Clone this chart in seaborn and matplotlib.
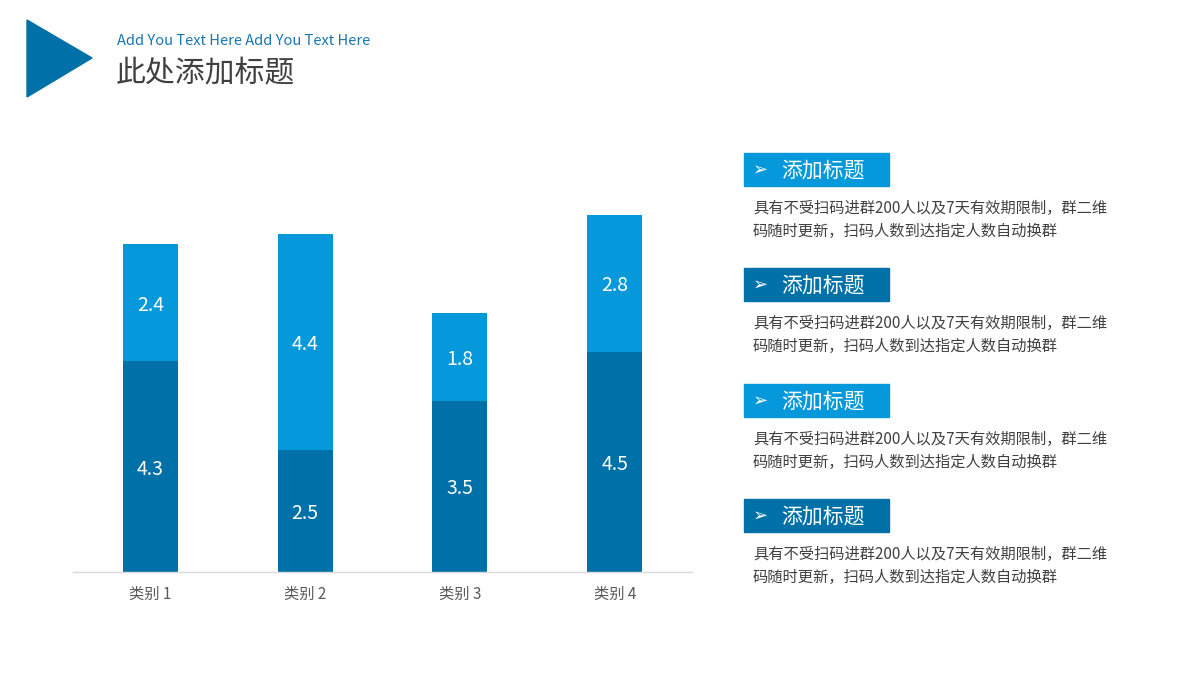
import pandas as pd
import seaborn as sns
import matplotlib.pyplot as plt
from matplotlib.patches import Polygon, Rectangle

# data
categories = ['类别 1', '类别 2', '类别 3', '类别 4']
lower_vals = [4.3, 2.5, 3.5, 4.5]
upper_vals = [2.4, 4.4, 1.8, 2.8]

box_titles = ['添加标题', '添加标题', '添加标题', '添加标题']
box_text = '具有不受扫码进群200人以及7天有效期限制，群二维\n码随时更新，扫码人数到达指定人数自动换群'

dark = '#0071A8'
light = '#0598DA'

sns.set_theme(style='white')
plt.rcParams['font.family'] = ['Noto Sans CJK SC', 'DejaVu Sans']

df = pd.DataFrame({'cat': categories, 'lower': lower_vals, 'upper': upper_vals})
df['total'] = df['lower'] + df['upper']

fig = plt.figure(figsize=(12, 6.8), dpi=100)
ax = fig.add_axes([0.0608, 0.1588, 0.516, 0.648])

sns.barplot(data=df, x='cat', y='total', color=light, width=0.355, saturation=1,
            linewidth=0, ax=ax)
sns.barplot(data=df, x='cat', y='lower', color=dark, width=0.355, saturation=1,
            linewidth=0, ax=ax)

# value labels, nudged a little below segment centre like the original
for i, row in df.iterrows():
    ax.text(i, row['lower'] / 2 - 0.05, f"{row['lower']:.1f}", ha='center', va='center',
            color='white', fontsize=14)
    ax.text(i, row['lower'] + row['upper'] / 2 - 0.05, f"{row['upper']:.1f}", ha='center',
            va='center', color='white', fontsize=14)

ax.set_xlim(-0.5, 3.5)
ax.set_ylim(0, 9)
ax.set_xlabel('')
ax.set_ylabel('')
ax.set_yticks([])
ax.tick_params(axis='x', length=0, pad=10, labelsize=11, labelcolor='#595959')
for s in ['top', 'left', 'right']:
    ax.spines[s].set_visible(False)
ax.spines['bottom'].set_color('#D9D9D9')
ax.spines['bottom'].set_linewidth(1)

# header
W, H = 1200, 680
tri = Polygon([(27 / W, 1 - 20 / H), (27 / W, 1 - 97 / H), (92 / W, 1 - 58 / H)],
              closed=True, transform=fig.transFigure, color=dark)
fig.patches.append(tri)
fig.text(117 / W, 1 - 41 / H, 'Add You Text Here Add You Text Here', color='#1A75B0',
         fontsize=10.5, va='center', ha='left')
fig.text(116 / W, 1 - 74 / H, '此处添加标题', color='#404040', fontsize=21.5,
         va='center', ha='left')

# right side boxes
box_tops = [153, 268, 384, 499]
box_colors = [light, dark, light, dark]
for top, title, col in zip(box_tops, box_titles, box_colors):
    rect = Rectangle((744 / W, 1 - (top + 33) / H), 145 / W, 33 / H,
                     transform=fig.transFigure, color=col)
    fig.patches.append(rect)
    fig.text(761 / W, 1 - (top + 17) / H, '➢', color='white', fontsize=13,
             va='center', ha='center', family=['DejaVu Sans'])
    fig.text(781 / W, 1 - (top + 18) / H, title, color='white', fontsize=15,
             va='center', ha='left')
    fig.text(753 / W, 1 - (top + 67) / H, box_text, color='#404040', fontsize=11,
             va='center', ha='left', linespacing=1.45)

fig.savefig('out.png', dpi=100)
